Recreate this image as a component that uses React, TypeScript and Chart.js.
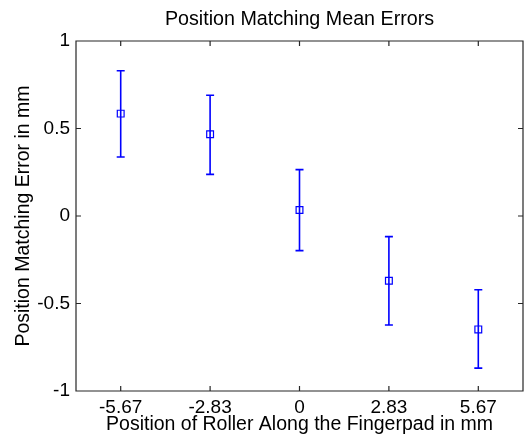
import React, { useEffect, useRef } from "react";
import { Chart, registerables } from "chart.js";

Chart.register(...registerables);

const positions = ["-5.67", "-2.83", "0", "2.83", "5.67"];
const meanErrors = [0.585, 0.467, 0.034, -0.37, -0.648];
const upperBounds = [0.83, 0.69, 0.265, -0.118, -0.421];
const lowerBounds = [0.337, 0.238, -0.198, -0.623, -0.869];
const yTicks = [-1, -0.5, 0, 0.5, 1];

const BLUE = "#0000ff";
const AXIS = "#262626";
const FONT = "'Liberation Sans', Arial, sans-serif";

const errorBarPlugin = {
  id: "errorBars",
  afterDatasetsDraw(chart: any) {
    const { ctx, scales } = chart;
    const xs = scales.x;
    const ys = scales.y;
    ctx.save();
    ctx.strokeStyle = BLUE;
    ctx.lineWidth = 1.6;
    const cap = 4;
    for (let i = 0; i < positions.length; i++) {
      const x = xs.getPixelForValue(i);
      const yt = ys.getPixelForValue(upperBounds[i]);
      const yb = ys.getPixelForValue(lowerBounds[i]);
      ctx.beginPath();
      ctx.moveTo(x, yt);
      ctx.lineTo(x, yb);
      ctx.moveTo(x - cap, yt);
      ctx.lineTo(x + cap, yt);
      ctx.moveTo(x - cap, yb);
      ctx.lineTo(x + cap, yb);
      ctx.stroke();
    }
    ctx.restore();
  },
};

const framePlugin = {
  id: "frame",
  afterDraw(chart: any) {
    const { ctx, chartArea, scales } = chart;
    const { left, right, top, bottom } = chartArea;
    const tl = 5;
    ctx.save();
    ctx.strokeStyle = AXIS;
    ctx.lineWidth = 1.2;
    ctx.beginPath();
    ctx.rect(left, top, right - left, bottom - top);
    const xs = scales.x;
    for (let i = 0; i < xs.ticks.length; i++) {
      const x = xs.getPixelForTick(i);
      ctx.moveTo(x, bottom);
      ctx.lineTo(x, bottom - tl);
      ctx.moveTo(x, top);
      ctx.lineTo(x, top + tl);
    }
    const ys = scales.y;
    for (let i = 0; i < ys.ticks.length; i++) {
      const y = ys.getPixelForTick(i);
      ctx.moveTo(left, y);
      ctx.lineTo(left + tl, y);
      ctx.moveTo(right, y);
      ctx.lineTo(right - tl, y);
    }
    ctx.stroke();
    ctx.restore();
  },
};

function noPad(scale: any) {
  scale.paddingLeft = 0;
  scale.paddingRight = 0;
  scale.paddingTop = 0;
  scale.paddingBottom = 0;
}

export default function App() {
  const ref = useRef<HTMLCanvasElement | null>(null);

  useEffect(() => {
    document.body.style.margin = "0";
    if (!ref.current) return;
    const chart = new Chart(ref.current, {
      type: "line",
      data: {
        labels: positions,
        datasets: [
          {
            data: meanErrors,
            showLine: false,
            borderColor: BLUE,
            backgroundColor: "rgba(0,0,0,0)",
            pointStyle: "rect",
            pointRadius: 4.8,
            pointBorderWidth: 1.2,
            pointBorderColor: BLUE,
            pointBackgroundColor: "rgba(0,0,0,0)",
          },
        ],
      },
      options: {
        responsive: false,
        animation: false,
        layout: { autoPadding: false, padding: { right: 1, left: 0, top: 0, bottom: 0 } },
        plugins: {
          legend: { display: false },
          tooltip: { enabled: false },
          title: { display: false },
        },
        scales: {
          x: {
            type: "category",
            offset: true,
            grid: { display: false, drawTicks: false },
            border: { display: false },
            ticks: {
              color: "#000",
              font: { family: FONT, size: 19 },
              padding: 5,
              maxRotation: 0,
              autoSkip: false,
            },
            title: {
              display: true,
              text: "Position of Roller Along the Fingerpad in mm",
              color: "#000",
              font: { family: FONT, size: 19.5 },
              padding: { top: 0, bottom: 0 },
            },
            afterFit(scale: any) {
              scale.height = 45;
              noPad(scale);
            },
          },
          xTop: {
            type: "category",
            position: "top",
            offset: true,
            grid: { display: false, drawTicks: false },
            border: { display: false },
            ticks: { display: false },
            title: {
              display: true,
              text: "Position Matching Mean Errors",
              color: "#000",
              font: { family: FONT, size: 19.7 },
              padding: { top: 8.2, bottom: 0 },
            },
            afterFit(scale: any) {
              scale.height = 41;
              noPad(scale);
            },
          },
          y: {
            type: "linear",
            min: -1,
            max: 1,
            afterBuildTicks(scale: any) {
              scale.ticks = yTicks.map((v) => ({ value: v }));
            },
            grid: { display: false, drawTicks: false },
            border: { display: false },
            ticks: {
              color: "#000",
              font: { family: FONT, size: 19 },
              padding: 6,
              callback: (v: any) => String(v),
            },
            title: {
              display: true,
              text: "Position Matching Error in mm",
              color: "#000",
              font: { family: FONT, size: 19.5 },
              padding: { top: 12.2, bottom: 0 },
            },
            afterFit(scale: any) {
              scale.width = 76;
              noPad(scale);
            },
          },
        },
      },
      plugins: [errorBarPlugin, framePlugin],
    });
    return () => chart.destroy();
  }, []);

  return (
    <div style={{ width: 524, height: 436 }}>
      <canvas ref={ref} width={524} height={436} />
    </div>
  );
}
